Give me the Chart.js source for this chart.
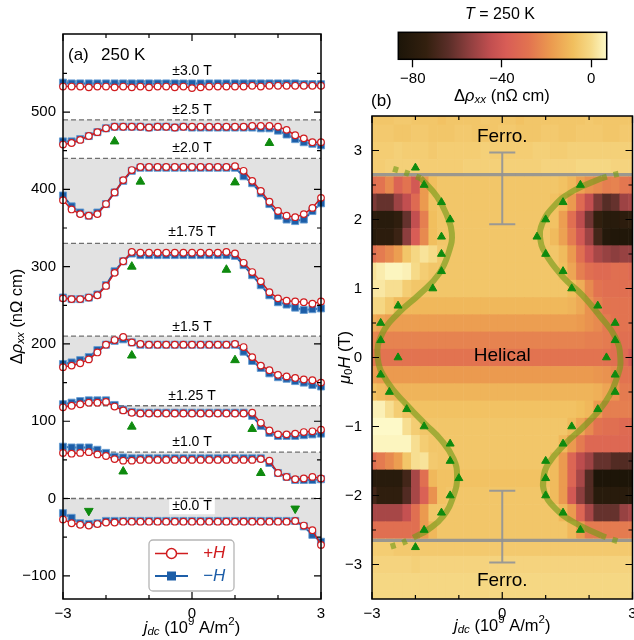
<!DOCTYPE html>
<html>
<head>
<meta charset="utf-8">
<script src="https://cdn.jsdelivr.net/npm/chart.js@4.4.1/dist/chart.umd.min.js"></script>
<style>
  html, body { margin: 0; padding: 0; background: #fff; }
  #wrap { position: relative; width: 634px; height: 640px; overflow: hidden; }
  .box { position: absolute; }
</style>
</head>
<body>
<div id="wrap">
  <div class="box" style="left:0;top:0;width:340px;height:640px"><canvas id="left"></canvas></div>
  <div class="box" style="left:330px;top:0;width:304px;height:640px"><canvas id="right"></canvas></div>
  <div class="box" style="left:380px;top:0;width:250px;height:116px"><canvas id="cbar"></canvas></div>
</div>
<script>
const FONT = '"Liberation Sans", Arial, sans-serif';

// ---------- panel (a) data ----------
const jdc = [-3,-2.8,-2.6,-2.4,-2.2,-2,-1.8,-1.6,-1.4,-1.2,-1,-0.8,-0.6,-0.4,-0.2,0,0.2,0.4,0.6,0.8,1,1.2,1.4,1.6,1.8,2,2.2,2.4,2.6,2.8,3];

const pH30 = [533,533,533,532,533,533,532,533,532,533,532,533,533,532,533,531,532,533,533,533,533,533,534,533,534,534,534,534,534,534,534];
const mH30 = [538,537,537,537,537,537,537,537,537,537,537,537,537,537,537,537,537,537,537,537,537,537,537,537,537,537,537,537,536,536,536];
const pH25 = [458,460,464,469,474,479,481,481,481,481,480,481,481,480,481,481,481,481,481,481,481,481,482,482,482,481,477,470,466,461,461];
const mH25 = [462,462,465,469,474,479,481,481,481,481,480,481,481,480,481,480,480,480,480,480,480,480,480,479,479,476,471,465,461,459,457];
const pH20 = [386,374,368,366,368,381,396,412,425,429,429,429,429,429,429,429,429,429,429,429,430,424,411,398,384,372,366,364,368,376,389];
const mH20 = [392,378,370,366,370,381,396,411,424,428,428,428,428,428,428,428,428,428,428,428,428,417,408,395,381,366,361,359,361,372,382];
const pH175 = [259,258,258,260,263,275,292,307,319,318,318,318,318,318,318,318,318,318,318,319,317,305,293,281,267,259,256,255,254,252,255];
const mH175 = [260,258,258,260,264,276,294,307,317,315,315,315,315,315,315,315,315,315,315,315,314,302,289,276,263,254,251,247,244,245,246];
const pH15 = [170,172,175,180,189,199,205,209,202,200,199,199,199,199,199,199,199,199,199,199,200,196,183,172,166,160,158,156,154,153,150];
const mH15 = [174,176,179,183,192,199,204,206,202,199,199,199,199,199,199,199,199,199,199,199,199,190,178,169,162,157,155,152,150,147,145];
const pH125 = [118,120,122,124,124,125,119,114,111,110,110,110,110,110,110,110,110,110,110,110,110,110,111,98,88,83,83,84,86,87,89];
const mH125 = [122,124,126,127,127,127,121,115,112,111,111,111,111,111,111,111,111,111,111,111,111,111,107,94,85,81,81,81,82,83,84];
const pH10 = [59,58,59,60,57,55,51,49,49,50,50,50,50,50,50,50,50,50,50,50,50,50,50,51,49,33,28,25,26,28,26];
const mH10 = [67,66,66,66,63,59,54,53,52,52,52,52,52,52,52,52,52,52,52,52,52,52,52,52,46,33,28,24,24,24,25];
const pH00 = [-27,-32,-34,-35,-33,-31,-31,-30,-30,-30,-30,-30,-30,-30,-30,-30,-30,-30,-30,-30,-30,-30,-30,-30,-30,-30,-30,-29,-35,-41,-60];
const mH00 = [-19,-25,-32,-33,-32,-29,-29,-29,-29,-29,-29,-29,-29,-29,-29,-29,-29,-29,-29,-29,-29,-29,-29,-29,-29,-29,-29,-29,-36,-47,-56];

const fieldNames = ['\u00b13.0 T','\u00b12.5 T','\u00b12.0 T','\u00b11.75 T','\u00b11.5 T','\u00b11.25 T','\u00b11.0 T','\u00b10.0 T'];
const baseLevels = [540, 490, 440, 330, 210, 120, 60, 0];
const nameY = [553, 503, 453, 344, 222, 133, 73, -10];
const plusSeries = [pH30, pH25, pH20, pH175, pH15, pH125, pH10, pH00];
const minusSeries = [mH30, mH25, mH20, mH175, mH15, mH125, mH10, mH00];

const triUpX = [-1.8, 1.8, -1.2, 1.0, -1.4, 0.8, -1.4, 1.0, -1.4, 1.4, -1.6, 1.6];
const triUpY = [462, 460, 410, 409, 300, 296, 185, 179, 93, 90, 35, 33];
const triDnX = [-2.4, 2.4];
const triDnY = [-16, -13];

const xMajorA = [-3, 0, 3], xMinorA = [-2, -1, 1, 2];
const yMajorA = [-100, 0, 100, 200, 300, 400, 500];
const yMinorA = [-50, 50, 150, 250, 350, 450, 550];

// ---------- panel (b) data ----------
const fieldH = [3.5,3.25,3,2.75,2.5,2.25,2,1.75,1.5,1.25,1,0.75,0.5,0.25,0,-0.25,-0.5,-0.75,-1,-1.25,-1.5,-1.75,-2,-2.25,-2.5,-2.75,-3,-3.25,-3.5];
const heatRows = [
  [-6,-6,-6,-5,-5,-6,-6,-6,-7,-6,-6,-6,-6,-5,-6,-6,-6,-7,-6,-6,-6,-6,-6,-6,-6,-5,-6,-6,-6,-6,-6],
  [-5,-5,-5,-6,-6,-5,-5,-6,-6,-6,-5,-5,-6,-6,-6,-5,-5,-6,-6,-6,-5,-5,-6,-6,-5,-5,-5,-6,-6,-5,-5],
  [-4,-4,-4,-3,-4,-4,-4,-5,-4,-4,-4,-4,-4,-3,-4,-4,-4,-4,-4,-3,-3,-4,-4,-3,-3,-3,-3,-3,-3,-3,-3],
  [-4,-4,-3,-3,-3,-3,-4,-4,-4,-4,-4,-3,-3,-3,-3,-3,-3,-3,-3,-3,-2,-2,-2,-2,-1,-1,-1,-1,-2,-2,-2],
  [-30,-28,-22,-35,-28,-40,-18,-8,-6,-6,-6,-6,-6,-6,-6,-6,-6,-6,-6,-6,-6,-6,-7,-10,-16,-20,-22,-25,-24,-27,-28],
  [-58,-62,-62,-52,-45,-32,-18,-7,-6,-6,-6,-6,-6,-6,-6,-6,-6,-6,-6,-6,-6,-7,-10,-18,-32,-45,-58,-65,-62,-52,-50],
  [-78,-80,-80,-76,-62,-45,-25,-8,-6,-6,-6,-6,-6,-6,-6,-6,-6,-6,-6,-6,-6,-7,-17,-30,-46,-60,-75,-80,-80,-78,-76],
  [-80,-78,-78,-72,-55,-38,-22,-8,-6,-6,-6,-6,-6,-6,-6,-6,-6,-6,-6,-6,-6,-9,-16,-26,-40,-52,-70,-82,-84,-84,-84],
  [-30,-26,-22,-17,-6,-1,2,0,-5,-6,-6,-6,-6,-6,-6,-6,-6,-6,-6,-6,-6,-6,-9,-18,-30,-42,-50,-53,-55,-53,-53],
  [2,4,6,6,5,0,-4,-6,-6,-6,-6,-6,-6,-6,-6,-6,-6,-6,-6,-6,-6,-6,-8,-15,-25,-30,-32,-32,-30,-30,-32],
  [3,3,1,1,-4,-6,-6,-6,-6,-6,-6,-6,-6,-6,-6,-6,-6,-6,-6,-6,-6,-6,-6,-8,-13,-22,-28,-30,-30,-30,-30],
  [-1,-1,-5,-9,-10,-10,-10,-10,-10,-10,-10,-10,-10,-10,-10,-10,-10,-10,-10,-10,-10,-10,-10,-11,-14,-20,-25,-28,-28,-28,-28],
  [-13,-15,-17,-17,-17,-17,-17,-17,-17,-17,-17,-17,-17,-17,-17,-17,-17,-17,-17,-17,-17,-17,-17,-17,-18,-20,-22,-26,-28,-28,-28],
  [-23,-24,-24,-24,-24,-24,-24,-24,-24,-24,-24,-24,-24,-24,-24,-24,-24,-24,-24,-24,-24,-24,-24,-24,-24,-25,-25,-26,-28,-30,-30],
  [-27,-28,-28,-28,-28,-28,-28,-28,-28,-28,-28,-28,-28,-28,-28,-28,-28,-28,-28,-28,-28,-28,-28,-28,-28,-28,-28,-29,-30,-32,-38],
  [-17,-18,-18,-18,-18,-18,-18,-18,-18,-18,-18,-18,-18,-18,-18,-18,-18,-18,-18,-18,-18,-18,-18,-18,-18,-18,-19,-20,-22,-28,-28],
  [-7,-9,-11,-11,-11,-11,-11,-11,-11,-11,-11,-11,-11,-11,-11,-11,-11,-11,-11,-11,-11,-11,-11,-11,-11,-11,-12,-15,-20,-26,-26],
  [5,5,1,-4,-7,-7,-7,-7,-7,-7,-7,-7,-7,-7,-7,-7,-7,-7,-7,-7,-7,-7,-7,-7,-8,-10,-18,-25,-25,-25,-25],
  [7,7,7,7,1,-4,-6,-6,-6,-6,-6,-6,-6,-6,-6,-6,-6,-6,-6,-6,-6,-6,-6,-9,-15,-22,-28,-30,-30,-32,-32],
  [6,6,6,6,6,1,-4,-6,-6,-6,-6,-6,-6,-6,-6,-6,-6,-6,-6,-6,-6,-6,-10,-18,-26,-33,-33,-33,-33,-33,-33],
  [-30,-26,-22,-17,-6,1,2,-5,-6,-6,-6,-6,-6,-6,-6,-6,-6,-6,-6,-6,-6,-9,-18,-34,-46,-52,-62,-62,-66,-66,-66],
  [-80,-80,-80,-80,-70,-50,-30,-10,-7,-7,-7,-7,-7,-7,-7,-7,-7,-7,-7,-7,-7,-9,-18,-34,-50,-66,-86,-86,-86,-86,-86],
  [-70,-76,-76,-76,-66,-50,-36,-20,-7,-6,-6,-6,-6,-6,-6,-6,-6,-6,-6,-6,-6,-9,-18,-40,-55,-66,-80,-80,-80,-80,-80],
  [-50,-50,-50,-50,-44,-30,-18,-6,-6,-6,-6,-6,-6,-6,-6,-6,-6,-6,-6,-6,-6,-6,-10,-18,-34,-50,-62,-62,-62,-53,-50],
  [-30,-30,-30,-30,-30,-30,-18,-10,-6,-6,-6,-6,-6,-6,-6,-6,-6,-6,-6,-6,-6,-6,-6,-10,-18,-26,-26,-26,-26,-26,-26],
  [-4,-4,-4,-5,-5,-5,-5,-5,-5,-5,-5,-5,-5,-5,-5,-5,-5,-5,-5,-5,-5,-5,-5,-5,-5,-5,-5,-5,-5,-5,-5],
  [-2,-2,-2,-2,-2,-3,-2,-2,-2,-2,-2,-2,-2,-2,-2,-2,-2,-2,-2,-2,-2,-2,-2,-2,-2,-2,-2,-2,-2,-2,-2],
  [-1,-1,-1,-1,-1,-1,-1,-1,-1,-1,-1,-1,-1,-1,-1,-1,-1,-1,-1,-1,-1,-1,-1,-1,-1,-1,-1,-1,-1,-1,-1],
  [-1,-1,-1,-1,-1,-1,-1,-1,-1,-1,-1,-1,-1,-1,-1,-1,-1,-1,-1,-1,-1,-1,-1,-1,-1,-1,-1,-1,-1,-1,-1]
];

// phase boundary curve
const curveLX = [-1.88,-1.5,-1.27,-1.16,-1.22,-1.45,-1.9,-2.4,-2.76,-2.87,-2.65,-2.18,-1.78,-1.4,-1.12,-1.04,-1.12,-1.36,-1.72,-1.95];
const curveLY = [2.6,2.33,2.05,1.8,1.55,1.22,0.92,0.64,0.35,0,-0.35,-0.7,-0.96,-1.2,-1.47,-1.72,-2.0,-2.3,-2.5,-2.58];
const curveRX = [2.3,1.65,1.2,0.92,0.87,0.99,1.41,1.85,2.25,2.6,2.72,2.66,2.37,1.91,1.45,1.05,0.95,0.97,1.18,1.6,2.28];
const curveRY = [2.6,2.42,2.2,1.94,1.75,1.51,1.16,0.9,0.6,0.3,0,-0.26,-0.65,-0.98,-1.25,-1.55,-1.75,-1.95,-2.16,-2.37,-2.58];
const dotULX = [-1.88,-2.28,-2.65], dotULY = [2.6,2.69,2.76];
const dotURX = [2.3,2.55,2.8],     dotURY = [2.6,2.645,2.68];
const dotLLX = [-1.95,-2.28,-2.62], dotLLY = [-2.58,-2.68,-2.75];
const dotLRX = [2.28,2.5,2.8],     dotLRY = [-2.58,-2.63,-2.69];

const triLX = [-2.0,-1.8,-1.4,-1.2,-1.4,-1.4,-1.4,-1.6,-2.4,-2.8,-2.8,-2.4,-2.8,-2.6,-2.2,-1.8,-1.2,-1.2,-1.0,-1.2,-1.4,-1.8,-2.0];
const triLH = [2.75,2.5,2.25,2.0,1.75,1.5,1.25,1.0,0.75,0.5,0.25,0,-0.25,-0.5,-0.75,-1.0,-1.25,-1.5,-1.75,-2.0,-2.25,-2.5,-2.75];
const triRX = [1.8,1.4,1.0,0.8,1.0,1.4,1.6,2.2,2.6,2.6,2.4,2.6,2.6,2.2,1.6,1.4,1.0,1.0,1.0,1.4,1.8];
const triRH = [2.5,2.25,2.0,1.75,1.5,1.25,1.0,0.75,0.5,0.25,0,-0.25,-0.5,-0.75,-1.0,-1.25,-1.5,-1.75,-2.0,-2.25,-2.5];

const phaseLineH = [2.65, -2.65];
const errCenterH = [2.45, -2.45];
const errHalf = [0.52, 0.52];

const xMajorB = [-3, 0, 3], xMinorB = [-2, -1, 1, 2];
const yMajorB = [-3, -2, -1, 0, 1, 2, 3];
const yMinorB = [-2.5, -1.5, -0.5, 0.5, 1.5, 2.5];

// colour bar
const cbarMin = -86.5, cbarMax = 7;
const cbarTicks = [-80, -40, 0];
const cmapVals = [-86.5,-74,-64,-54,-45,-38,-28,-18,-8,0,7];
const cmapCols = ['#1c1508','#33200f','#5a2e28','#924040','#c24f50','#d85d56','#e27350','#eb9a4f','#f1bf5e','#f6da88','#fdf9c8'];

// ---------- helpers ----------
const RED = '#d01c1f', BLUE = '#1d5ea8', GREEN = '#0e8a0e';
const fmt = v => (v < 0 ? '\u2212' + Math.abs(v) : String(v));
const xy = (xs, ys) => xs.map((x, i) => ({ x, y: ys[i] }));

function hex(c) { return [1, 3, 5].map(i => parseInt(c.slice(i, i + 2), 16)); }
function cmap(v) {
  if (v <= cmapVals[0]) return cmapCols[0];
  for (let i = 1; i < cmapVals.length; i++) {
    if (v <= cmapVals[i]) {
      const t = (v - cmapVals[i - 1]) / (cmapVals[i] - cmapVals[i - 1]);
      const a = hex(cmapCols[i - 1]), b = hex(cmapCols[i]);
      return 'rgb(' + a.map((q, k) => Math.round(q + (b[k] - q) * t)).join(',') + ')';
    }
  }
  return cmapCols[cmapCols.length - 1];
}

// mixed text with italics / sub / superscripts
function richText(ctx, parts, x, y, size, opt = {}) {
  const segs = parts.map(([t, st = '']) => {
    const small = st.includes('sub') || st.includes('sup');
    const fs = small ? size * 0.7 : size;
    const font = (st.startsWith('i') ? 'italic ' : '') + fs + 'px ' + FONT;
    ctx.font = font;
    return { t, font, w: ctx.measureText(t).width,
             dy: st.includes('sub') ? size * 0.25 : st.includes('sup') ? -size * 0.35 : 0 };
  });
  const total = segs.reduce((a, s) => a + s.w, 0);
  ctx.save();
  ctx.translate(x, y);
  if (opt.rotate) ctx.rotate(opt.rotate);
  ctx.textBaseline = 'middle';
  ctx.textAlign = 'left';
  ctx.fillStyle = opt.color || '#000';
  let cx = opt.align === 'left' ? 0 : -total / 2;
  for (const s of segs) { ctx.font = s.font; ctx.fillText(s.t, cx, s.dy); cx += s.w; }
  ctx.restore();
}

// axes box with inward ticks on all four sides
function drawFrame(chart, xMaj, xMin, yMaj, yMin) {
  const { ctx, chartArea: a, scales: { x, y } } = chart;
  ctx.save();
  ctx.strokeStyle = '#000';
  ctx.lineWidth = 1.2;
  ctx.beginPath();
  const tick = (vals, len, isX) => vals.forEach(v => {
    if (isX) {
      const p = x.getPixelForValue(v);
      ctx.moveTo(p, a.bottom); ctx.lineTo(p, a.bottom - len);
      ctx.moveTo(p, a.top); ctx.lineTo(p, a.top + len);
    } else {
      const p = y.getPixelForValue(v);
      ctx.moveTo(a.left, p); ctx.lineTo(a.left + len, p);
      ctx.moveTo(a.right, p); ctx.lineTo(a.right - len, p);
    }
  });
  tick(xMaj, 7, true); tick(xMin, 4, true);
  tick(yMaj, 7, false); tick(yMin, 4, false);
  ctx.stroke();
  ctx.lineWidth = 1.5;
  ctx.strokeRect(a.left, a.top, a.right - a.left, a.bottom - a.top);
  ctx.restore();
}

// fixed-size axes, no automatic edge padding
const fixX = h => s => { s.height = h; s.paddingLeft = 0; s.paddingRight = 0; };
const fixY = w => s => { s.width = w; s.paddingTop = 0; s.paddingBottom = 0; };
const noGrid = { display: false, drawTicks: false };

Chart.defaults.font.family = FONT;
Chart.defaults.color = '#000';

// ---------- panel (a) ----------
const leftSets = [];
baseLevels.forEach(lv => leftSets.push({
  data: jdc.map(x => ({ x, y: lv })), borderColor: '#707070', borderWidth: 1.3,
  borderDash: [5, 3], pointRadius: 0, order: 5
}));
plusSeries.forEach((s, k) => leftSets.push({
  data: xy(jdc, s), borderColor: RED, borderWidth: 1.5, pointStyle: 'circle',
  pointRadius: 3.3, pointBorderWidth: 1.2, pointBackgroundColor: '#fff', pointBorderColor: RED,
  fill: { target: k, above: '#e2e2e2', below: '#e2e2e2' }, order: 1, clip: false
}));
minusSeries.forEach(s => leftSets.push({
  data: xy(jdc, s), borderColor: BLUE, borderWidth: 2, pointStyle: 'rect',
  pointRadius: 5, pointBorderWidth: 1, pointBackgroundColor: BLUE,
  pointBorderColor: 'rgba(100,155,210,0.9)', order: 2, clip: false
}));
leftSets.push({ data: xy(triUpX, triUpY), showLine: false, pointStyle: 'triangle', pointRadius: 5,
  pointBackgroundColor: GREEN, pointBorderColor: GREEN, order: 0 });
leftSets.push({ data: xy(triDnX, triDnY), showLine: false, pointStyle: 'triangle', pointRotation: 180,
  pointRadius: 5, pointBackgroundColor: GREEN, pointBorderColor: GREEN, order: 0 });

const leftDecor = {
  id: 'leftDecor',
  afterDatasetsDraw(chart) {
    const { ctx, scales: { x, y } } = chart;
    ctx.save();
    ctx.font = '14px ' + FONT;
    ctx.textAlign = 'center';
    ctx.textBaseline = 'middle';
    fieldNames.forEach((t, k) => {
      const px = x.getPixelForValue(0), py = y.getPixelForValue(nameY[k]);
      const w = ctx.measureText(t).width;
      ctx.fillStyle = '#fff';
      ctx.fillRect(px - w / 2 - 3, py - 7, w + 6, 15);
      ctx.fillStyle = '#000';
      ctx.fillText(t, px, py);
    });
    ctx.restore();
    drawFrame(chart, xMajorA, xMinorA, yMajorA, yMinorA);
  },
  afterDraw(chart) {
    const { ctx, chartArea: a } = chart;
    ctx.save();
    ctx.fillStyle = '#000';
    ctx.font = '17px ' + FONT;
    ctx.textBaseline = 'middle';
    ctx.fillText('(a)', 68, 55);
    ctx.fillText('250 K', 101, 55);
    // legend
    ctx.beginPath();
    ctx.roundRect(149, 540, 85, 51, 4);
    ctx.fillStyle = 'rgba(255,255,255,0.9)';
    ctx.fill();
    ctx.strokeStyle = '#b5b5b5';
    ctx.lineWidth = 1.3;
    ctx.stroke();
    ctx.lineWidth = 1.5;
    ctx.strokeStyle = RED;
    ctx.beginPath(); ctx.moveTo(155, 553.5); ctx.lineTo(188, 553.5); ctx.stroke();
    ctx.beginPath(); ctx.arc(171.5, 553.5, 5, 0, Math.PI * 2);
    ctx.fillStyle = '#fff'; ctx.fill(); ctx.stroke();
    ctx.strokeStyle = BLUE;
    ctx.lineWidth = 2;
    ctx.beginPath(); ctx.moveTo(155, 576); ctx.lineTo(188, 576); ctx.stroke();
    ctx.fillStyle = BLUE;
    ctx.fillRect(167, 571.5, 9, 9);
    ctx.font = 'italic 17px ' + FONT;
    ctx.fillStyle = RED;
    ctx.fillText('+H', 203, 553.5);
    ctx.fillStyle = BLUE;
    ctx.fillText('\u2212H', 203, 576);
    ctx.restore();
    richText(ctx, [['\u0394'], ['\u03c1', 'i'], ['xx', 'isub'], [' (n\u03a9 cm)']], 17, (a.top + a.bottom) / 2, 16.5, { rotate: -Math.PI / 2 });
    richText(ctx, [['j', 'i'], ['dc', 'isub'], [' (10'], ['9', 'sup'], [' A/m'], ['2', 'sup'], [')']],
      (a.left + a.right) / 2, 628, 16.5);
  }
};

new Chart(document.getElementById('left'), {
  type: 'line',
  data: { datasets: leftSets },
  options: {
    responsive: true, maintainAspectRatio: false, animation: false, events: [],
    layout: { padding: { top: 34, right: 19, left: 0, bottom: 0 }, autoPadding: false },
    elements: { line: { tension: 0 } },
    plugins: { legend: { display: false }, tooltip: { enabled: false },
               filler: { drawTime: 'beforeDatasetsDraw' } },
    scales: {
      x: { type: 'linear', min: -3, max: 3,
           afterBuildTicks: s => { s.ticks = xMajorA.map(v => ({ value: v })); },
           afterFit: fixX(41), grid: noGrid, border: { display: false },
           ticks: { font: { size: 15 }, padding: 6, maxRotation: 0, color: '#000', callback: fmt } },
      y: { type: 'linear', min: -130, max: 601,
           afterBuildTicks: s => { s.ticks = yMajorA.map(v => ({ value: v })); },
           afterFit: fixY(63), grid: noGrid, border: { display: false },
           ticks: { font: { size: 15 }, padding: 7, color: '#000', callback: fmt } }
    }
  },
  plugins: [leftDecor]
});

// ---------- panel (b) ----------
const CURVE = 'rgba(115,155,25,0.62)';
const rightSets = [];
phaseLineH.forEach(h => rightSets.push({
  data: xy([-3, 3], [h, h]), borderColor: 'rgba(145,145,145,0.9)', borderWidth: 3.3, pointRadius: 0, order: 6
}));
[[curveLX, curveLY], [curveRX, curveRY]].forEach(([xs, ys]) => rightSets.push({
  data: xy(xs, ys), borderColor: CURVE, borderWidth: 6, pointRadius: 0, tension: 0.45, order: 4
}));
[[dotULX, dotULY], [dotURX, dotURY], [dotLLX, dotLLY], [dotLRX, dotLRY]].forEach(([xs, ys]) => rightSets.push({
  data: xy(xs, ys), borderColor: CURVE, borderWidth: 6, borderDash: [5, 7], borderCapStyle: 'butt',
  pointRadius: 0, tension: 0.3, order: 4
}));
[[triLX, triLH], [triRX, triRH]].forEach(([xs, ys]) => rightSets.push({
  data: xy(xs, ys), showLine: false, pointStyle: 'triangle', pointRadius: 4.6,
  pointBackgroundColor: GREEN, pointBorderColor: GREEN, order: 0
}));

const rightDecor = {
  id: 'rightDecor',
  beforeDatasetsDraw(chart) {
    const { ctx, chartArea: a, scales: { x, y } } = chart;
    ctx.save();
    ctx.beginPath();
    ctx.rect(a.left, a.top, a.right - a.left, a.bottom - a.top);
    ctx.clip();
    heatRows.forEach((row, r) => {
      const y0 = y.getPixelForValue(fieldH[r] + 0.125), y1 = y.getPixelForValue(fieldH[r] - 0.125);
      row.forEach((v, c) => {
        const x0 = x.getPixelForValue(jdc[c] - 0.1), x1 = x.getPixelForValue(jdc[c] + 0.1);
        ctx.fillStyle = cmap(v);
        ctx.fillRect(x0, y0, x1 - x0 + 0.6, y1 - y0 + 0.6);
      });
    });
    // error bars
    ctx.strokeStyle = 'rgba(150,150,150,0.95)';
    ctx.lineWidth = 2;
    errCenterH.forEach((h, k) => {
      const px = x.getPixelForValue(0);
      const top = y.getPixelForValue(h + errHalf[k]), bot = y.getPixelForValue(h - errHalf[k]);
      const c0 = x.getPixelForValue(-0.3), c1 = x.getPixelForValue(0.3);
      ctx.beginPath();
      ctx.moveTo(px, top); ctx.lineTo(px, bot);
      ctx.moveTo(c0, top); ctx.lineTo(c1, top);
      ctx.moveTo(c0, bot); ctx.lineTo(c1, bot);
      ctx.stroke();
    });
    ctx.restore();
  },
  afterDatasetsDraw(chart) {
    const { ctx, scales: { x, y } } = chart;
    ctx.save();
    ctx.fillStyle = '#000';
    ctx.font = '19px ' + FONT;
    ctx.textAlign = 'center';
    ctx.textBaseline = 'middle';
    ctx.fillText('Ferro.', x.getPixelForValue(0), y.getPixelForValue(3.2));
    ctx.fillText('Helical', x.getPixelForValue(0), y.getPixelForValue(0.03));
    ctx.fillText('Ferro.', x.getPixelForValue(0), y.getPixelForValue(-3.23));
    ctx.restore();
    drawFrame(chart, xMajorB, xMinorB, yMajorB, yMinorB);
  },
  afterDraw(chart) {
    const { ctx, chartArea: a } = chart;
    ctx.save();
    ctx.fillStyle = '#000';
    ctx.font = '17px ' + FONT;
    ctx.textBaseline = 'middle';
    ctx.fillText('(b)', 41, 101);
    ctx.restore();
    richText(ctx, [['\u03bc', 'i'], ['0', 'sub'], ['H', 'i'], [' (T)']], 15, (a.top + a.bottom) / 2, 16.5, { rotate: -Math.PI / 2 });
    richText(ctx, [['j', 'i'], ['dc', 'isub'], [' (10'], ['9', 'sup'], [' A/m'], ['2', 'sup'], [')']],
      (a.left + a.right) / 2, 626, 16.5);
  }
};

new Chart(document.getElementById('right'), {
  type: 'line',
  data: { datasets: rightSets },
  options: {
    responsive: true, maintainAspectRatio: false, animation: false, events: [],
    layout: { padding: { top: 116, right: 1.5, left: 0, bottom: 0 }, autoPadding: false },
    plugins: { legend: { display: false }, tooltip: { enabled: false } },
    scales: {
      x: { type: 'linear', min: -3, max: 3,
           afterBuildTicks: s => { s.ticks = xMajorB.map(v => ({ value: v })); },
           afterFit: fixX(41), grid: noGrid, border: { display: false },
           ticks: { font: { size: 15 }, padding: 6, maxRotation: 0, color: '#000', callback: fmt } },
      y: { type: 'linear', min: -3.5, max: 3.5,
           afterBuildTicks: s => { s.ticks = yMajorB.map(v => ({ value: v })); },
           afterFit: fixY(42), grid: noGrid, border: { display: false },
           ticks: { font: { size: 15 }, padding: 10, color: '#000', callback: fmt } }
    }
  },
  plugins: [rightDecor]
});

// ---------- colour bar ----------
const cbarDecor = {
  id: 'cbarDecor',
  beforeDraw(chart) {
    const { ctx, chartArea: a, scales: { x } } = chart;
    const g = ctx.createLinearGradient(x.getPixelForValue(cbarMin), 0, x.getPixelForValue(cbarMax), 0);
    cmapVals.forEach((v, i) => g.addColorStop((v - cbarMin) / (cbarMax - cbarMin), cmapCols[i]));
    ctx.save();
    ctx.fillStyle = g;
    ctx.fillRect(a.left, a.top, a.right - a.left, a.bottom - a.top);
    ctx.strokeStyle = '#000';
    ctx.lineWidth = 1.5;
    ctx.strokeRect(a.left, a.top, a.right - a.left, a.bottom - a.top);
    ctx.restore();
  },
  afterDraw(chart) {
    const { ctx, scales: { x } } = chart;
    const cx = x.getPixelForValue(-40);
    richText(ctx, [['T', 'i'], [' = 250 K']], 120, 15, 16);
    richText(ctx, [['\u0394'], ['\u03c1', 'i'], ['xx', 'isub'], [' (n\u03a9 cm)']], cx, 96, 16.5);
  }
};

new Chart(document.getElementById('cbar'), {
  type: 'line',
  data: { datasets: [] },
  options: {
    responsive: true, maintainAspectRatio: false, animation: false, events: [],
    layout: { padding: { top: 32.3, right: 23.3, left: 18.3, bottom: 0 }, autoPadding: false },
    plugins: { legend: { display: false }, tooltip: { enabled: false } },
    scales: {
      x: { type: 'linear', min: cbarMin, max: cbarMax,
           afterBuildTicks: s => { s.ticks = cbarTicks.map(v => ({ value: v })); },
           afterFit: fixX(56.7),
           grid: { display: true, drawOnChartArea: false, drawTicks: true, tickLength: 8,
                   tickColor: '#000', tickWidth: 1.3 },
           border: { display: false },
           ticks: { font: { size: 15 }, padding: 3, maxRotation: 0, color: '#000', callback: fmt } },
      y: { display: false, min: 0, max: 1 }
    }
  },
  plugins: [cbarDecor]
});
</script>
</body>
</html>
